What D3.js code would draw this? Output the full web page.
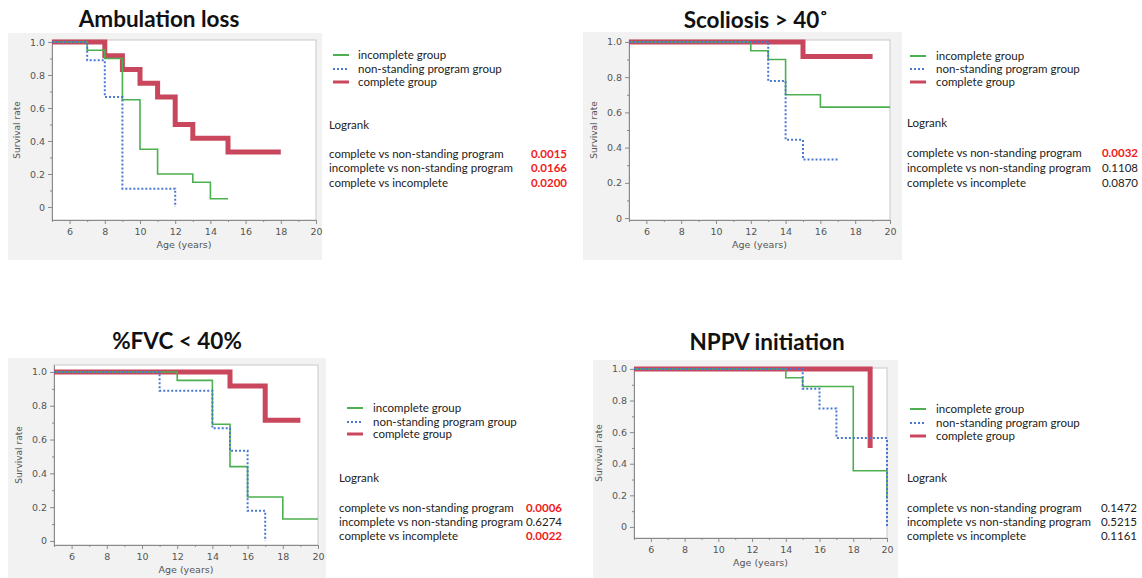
<!DOCTYPE html>
<html lang="en">
<head>
<meta charset="UTF-8">
<title>Kaplan-Meier curves</title>
<script src="https://cdn.jsdelivr.net/npm/d3@7"></script>
<style>
  body { margin: 0; background: #fff; }
  svg { display: block; }
  .tick text { font-family: "DejaVu Sans", sans-serif; font-size: 9.5px; fill: #555; }
  .axis path, .axis line { stroke: #8a8a8a; }
</style>
</head>
<body>
<div id="chart"></div>
<script>
// groups and logrank comparisons
const groupNames = ["incomplete group", "non-standing program group", "complete group"];
const comparisons = ["complete vs non-standing program", "incomplete vs non-standing program", "complete vs incomplete"];
const panelTitles = ["Ambulation loss", "Scoliosis > 40\u02DA", "%FVC < 40%", "NPPV initiation"];

// survival steps: [age, survival rate]
const ambIncomplete = [[5,1],[7,0.95],[8,0.9],[9,0.65],[10,0.35],[11,0.2],[13,0.15],[14,0.05],[15,0.05]];
const ambNonStanding = [[5,1],[7,0.889],[8,0.667],[9,0.111],[12,0]];
const ambComplete = [[5,1],[8,0.917],[9,0.833],[10,0.75],[11,0.667],[12,0.5],[13,0.417],[15,0.333],[18,0.333]];

const scoIncomplete = [[5,1],[12,0.95],[13,0.9],[14,0.7],[16,0.63],[20,0.63]];
const scoNonStanding = [[5,1],[13,0.778],[14,0.444],[15,0.333],[17,0.333]];
const scoComplete = [[5,1],[15,0.917],[19,0.917]];

const fvcIncomplete = [[5,1],[12,0.95],[14,0.69],[15,0.44],[16,0.26],[18,0.13],[20,0.13]];
const fvcNonStanding = [[5,1],[11,0.889],[14,0.667],[15,0.533],[16,0.178],[17,0]];
const fvcComplete = [[5,1],[15,0.917],[17,0.714],[19,0.714]];

const nppvIncomplete = [[5,1],[14,0.944],[15,0.889],[18,0.356],[20,0.178]];
const nppvNonStanding = [[5,1],[15,0.875],[16,0.75],[17,0.5625],[20,0]];
const nppvComplete = [[5,1],[19,0.5]];

// logrank p-values, same order as comparisons
const ambP = ["0.0015", "0.0166", "0.0200"];
const scoP = ["0.0032", "0.1108", "0.0870"];
const fvcP = ["0.0006", "0.6274", "0.0022"];
const nppvP = ["0.1472", "0.5215", "0.1161"];

const xTicks = [6, 8, 10, 12, 14, 16, 18, 20];
const xMinor = [5, 7, 9, 11, 13, 15, 17, 19];
const yTicks = [0, 0.2, 0.4, 0.6, 0.8, 1.0];
const yMinor = [0.1, 0.3, 0.5, 0.7, 0.9];

const colors = ["#4cb050", "#4a78d0", "#c9475c"];

// layout of each panel (pixels)
const panels = [
  { title: panelTitles[0], curves: [ambIncomplete, ambNonStanding, ambComplete], p: ambP,
    box: [8, 33, 314, 227], plot: [52, 40, 316, 220], yDom: [-0.079, 1.012], titleX: 159, titleY: 27,
    leg: { line: 333, text: 358, y: [55, 69, 82], lr: 329, lrY: 125, rows: [154, 168, 183], pRight: 567 } },
  { title: panelTitles[1], curves: [scoIncomplete, scoNonStanding, scoComplete], p: scoP,
    box: [583, 32, 319, 228], plot: [629, 40, 890, 220], yDom: [-0.011, 1.011], titleX: 756, titleY: 28,
    leg: { line: 910, text: 936, y: [56, 69, 82], lr: 907, lrY: 123, rows: [153, 168, 183], pRight: 1138 } },
  { title: panelTitles[2], curves: [fvcIncomplete, fvcNonStanding, fvcComplete], p: fvcP,
    box: [8, 358, 318, 230], plot: [54, 365, 318, 545], yDom: [-0.024, 1.041], titleX: 177, titleY: 349,
    leg: { line: 347, text: 373, y: [408, 422, 434], lr: 339, lrY: 478, rows: [508, 522, 536], pRight: 562 } },
  { title: panelTitles[3], curves: [nppvIncomplete, nppvNonStanding, nppvComplete], p: nppvP,
    box: [593, 360, 305, 230], plot: [634, 368, 887, 538], yDom: [-0.07, 1.006], titleX: 767, titleY: 350,
    leg: { line: 910, text: 936, y: [409, 423, 436], lr: 907, lrY: 478, rows: [508, 522, 536], pRight: 1137 } }
];

const svg = d3.select("#chart").append("svg")
  .attr("width", 1142).attr("height", 578);

const textFont = "Lato, 'Open Sans', sans-serif";

panels.forEach(function(pn) {
  const g = svg.append("g");

  // gray background
  g.append("rect")
    .attr("x", pn.box[0]).attr("y", pn.box[1])
    .attr("width", pn.box[2]).attr("height", pn.box[3])
    .attr("fill", "#f2f2f2");

  // title
  g.append("text")
    .attr("x", pn.titleX).attr("y", pn.titleY)
    .attr("text-anchor", "middle")
    .style("font-family", textFont)
    .style("font-weight", "bold")
    .style("font-size", "22.5px")
    .attr("fill", "#111")
    .text(pn.title);

  const [x0, y0, x1, y1] = pn.plot;
  const x = d3.scaleLinear().domain([5, 20]).range([x0, x1]);
  const y = d3.scaleLinear().domain(pn.yDom).range([y1, y0]);

  // plot frame
  g.append("rect")
    .attr("x", x0).attr("y", y0)
    .attr("width", x1 - x0).attr("height", y1 - y0)
    .attr("fill", "#fff").attr("stroke", "#c8c8c8");

  // axes
  g.append("g").attr("class", "axis")
    .attr("transform", `translate(0,${y1})`)
    .call(d3.axisBottom(x).tickValues(xTicks).tickSize(4).tickSizeOuter(0).tickPadding(4));
  g.append("g").attr("class", "axis")
    .attr("transform", `translate(0,${y1})`)
    .call(d3.axisBottom(x).tickValues(xMinor).tickSize(2).tickSizeOuter(0).tickFormat(""));
  g.append("g").attr("class", "axis")
    .attr("transform", `translate(${x0},0)`)
    .call(d3.axisLeft(y).tickValues(yTicks).tickSize(4).tickSizeOuter(0).tickPadding(3)
      .tickFormat(d => d === 0 ? "0" : d.toFixed(1)));
  g.append("g").attr("class", "axis")
    .attr("transform", `translate(${x0},0)`)
    .call(d3.axisLeft(y).tickValues(yMinor).tickSize(2).tickSizeOuter(0).tickFormat(""));
  g.selectAll(".axis .domain").attr("stroke", "#8a8a8a");

  // axis labels
  g.append("text")
    .attr("x", (x0 + x1) / 2).attr("y", y1 + 28)
    .attr("text-anchor", "middle")
    .style("font-family", "'DejaVu Sans', sans-serif")
    .style("font-size", "9.5px").attr("fill", "#555")
    .text("Age (years)");
  g.append("text")
    .attr("transform", `translate(${x0 - 32},${(y0 + y1) / 2}) rotate(-90)`)
    .attr("text-anchor", "middle")
    .style("font-family", "'DejaVu Sans', sans-serif")
    .style("font-size", "9px").attr("fill", "#555")
    .text("Survival rate");

  // survival curves: complete first, then incomplete, non-standing on top
  const line = d3.line().x(d => x(d[0])).y(d => y(d[1])).curve(d3.curveStepAfter);
  [2, 0, 1].forEach(function(i) {
    g.append("path")
      .datum(pn.curves[i])
      .attr("d", line)
      .attr("fill", "none")
      .attr("stroke", colors[i])
      .attr("stroke-width", i === 2 ? 5 : (i === 1 ? 2 : 1.6))
      .attr("stroke-dasharray", i === 1 ? "2,2" : null)
      .attr("stroke-linejoin", "miter");
  });

  // legend
  const L = pn.leg;
  groupNames.forEach(function(name, i) {
    g.append("line")
      .attr("x1", L.line).attr("x2", L.line + 16)
      .attr("y1", L.y[i]).attr("y2", L.y[i])
      .attr("stroke", colors[i])
      .attr("stroke-width", i === 2 ? 3 : 2)
      .attr("stroke-dasharray", i === 1 ? "2,2" : null);
    g.append("text")
      .attr("x", L.text).attr("y", L.y[i] + 4)
      .style("font-family", textFont).style("font-size", "11.5px")
      .attr("fill", "#222")
      .text(name);
  });

  // logrank table
  g.append("text")
    .attr("x", L.lr).attr("y", L.lrY + 4)
    .style("font-family", textFont).style("font-size", "11.5px")
    .attr("fill", "#222")
    .text("Logrank");
  comparisons.forEach(function(c, i) {
    g.append("text")
      .attr("x", L.lr).attr("y", L.rows[i] + 4)
      .style("font-family", textFont).style("font-size", "11.5px")
      .attr("fill", "#222")
      .text(c);
    const sig = +pn.p[i] < 0.05;
    g.append("text")
      .attr("x", L.pRight).attr("y", L.rows[i] + 4)
      .attr("text-anchor", "end")
      .style("font-family", textFont).style("font-size", "11.5px")
      .style("font-weight", sig ? "bold" : "normal")
      .attr("fill", sig ? "#f02020" : "#222")
      .text(pn.p[i]);
  });
});
</script>
</body>
</html>
